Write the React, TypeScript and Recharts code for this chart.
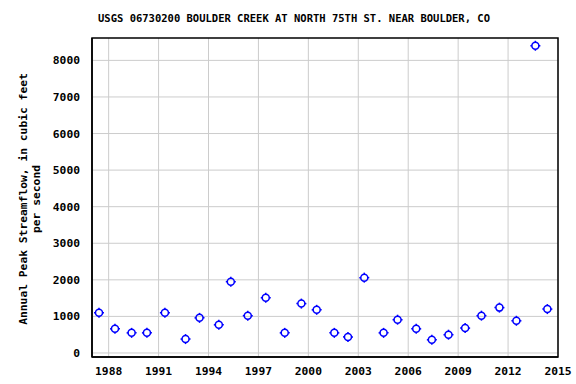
import { ScatterChart, Scatter, XAxis, YAxis, CartesianGrid, ReferenceArea } from "recharts";

// peak date as fractional year, peak flow in cfs
const years = [
  1987.42, 1988.38, 1989.38, 1990.3, 1991.38, 1992.62, 1993.46, 1994.62, 1995.34, 1996.36,
  1997.44, 1998.58, 1999.58, 2000.5, 2001.56, 2002.38, 2003.36, 2004.52, 2005.36, 2006.48,
  2007.42, 2008.42, 2009.42, 2010.4, 2011.48, 2012.5, 2013.64, 2014.36,
];
const peaks = [
  1100, 660, 550, 550, 1100, 380, 960, 770, 1950, 1020,
  1510, 550, 1350, 1180, 550, 440, 2060, 550, 910, 660,
  360, 500, 680, 1020, 1240, 880, 8400, 1200,
];
const xTicks = [1988, 1991, 1994, 1997, 2000, 2003, 2006, 2009, 2012, 2015];
const yTicks = [0, 1000, 2000, 3000, 4000, 5000, 6000, 7000, 8000];

const data = years.map((x, i) => ({ x, y: peaks[i] }));

const FONT = "'DejaVu Sans Mono', monospace";

function Marker(props: any) {
  const { cx, cy } = props;
  return (
    <g stroke="#0000ff" strokeWidth={1.5} fill="none">
      <circle cx={cx} cy={cy} r={3.5} />
      <line x1={cx} y1={cy - 5} x2={cx} y2={cy - 3.5} />
      <line x1={cx} y1={cy + 3.5} x2={cx} y2={cy + 5} />
      <line x1={cx - 5} y1={cy} x2={cx - 3.5} y2={cy} />
      <line x1={cx + 3.5} y1={cy} x2={cx + 5} y2={cy} />
    </g>
  );
}

function YLabel() {
  return (
    <text
      transform="translate(27,199) rotate(-90)"
      textAnchor="middle"
      fontFamily={FONT}
      fontWeight="bold"
      fontSize={11.3}
      fill="#000"
    >
      <tspan x={0} dy={0}>Annual Peak Streamflow, in cubic feet</tspan>
      <tspan x={0} dy={13}>per second</tspan>
    </text>
  );
}

export default function App() {
  return (
    <div style={{ position: "absolute", left: 0, top: 0, width: 576, height: 384, background: "#fff" }}>
      <div
        style={{
          position: "absolute",
          left: 0,
          top: 12,
          width: 576,
          textAlign: "center",
          paddingLeft: 12,
          boxSizing: "border-box",
          fontFamily: FONT,
          fontWeight: "bold",
          fontSize: 10.5,
          whiteSpace: "pre",
        }}
      >
        USGS 06730200 BOULDER CREEK AT NORTH 75TH ST. NEAR BOULDER, CO
      </div>
      <ScatterChart width={576} height={384} margin={{ top: 38, right: 18, bottom: 0, left: 0 }}>
        <CartesianGrid stroke="#cccccc" strokeWidth={1} verticalValues={xTicks} horizontalValues={yTicks} />
        <XAxis
          type="number"
          dataKey="x"
          domain={[1987, 2015]}
          ticks={xTicks}
          allowDataOverflow
          height={27}
          tickLine={false}
          axisLine={{ stroke: "#000", strokeWidth: 1.5 }}
          tick={{ fill: "#000", fontFamily: FONT, fontWeight: "bold", fontSize: 11.3 }}
          tickMargin={4}
        />
        <YAxis
          type="number"
          dataKey="y"
          domain={[-110, 8612]}
          ticks={yTicks}
          allowDataOverflow
          width={92}
          tickLine={false}
          axisLine={{ stroke: "#000", strokeWidth: 1.5 }}
          tick={{ fill: "#000", fontFamily: FONT, fontWeight: "bold", fontSize: 11.3 }}
          tickMargin={6}
          label={<YLabel />}
        />
        <ReferenceArea x1={1987} x2={2015} y1={-110} y2={8612} fill="none" stroke="#000" strokeWidth={1.5} ifOverflow="visible" />
        <Scatter data={data} shape={<Marker />} isAnimationActive={false} />
      </ScatterChart>
    </div>
  );
}
